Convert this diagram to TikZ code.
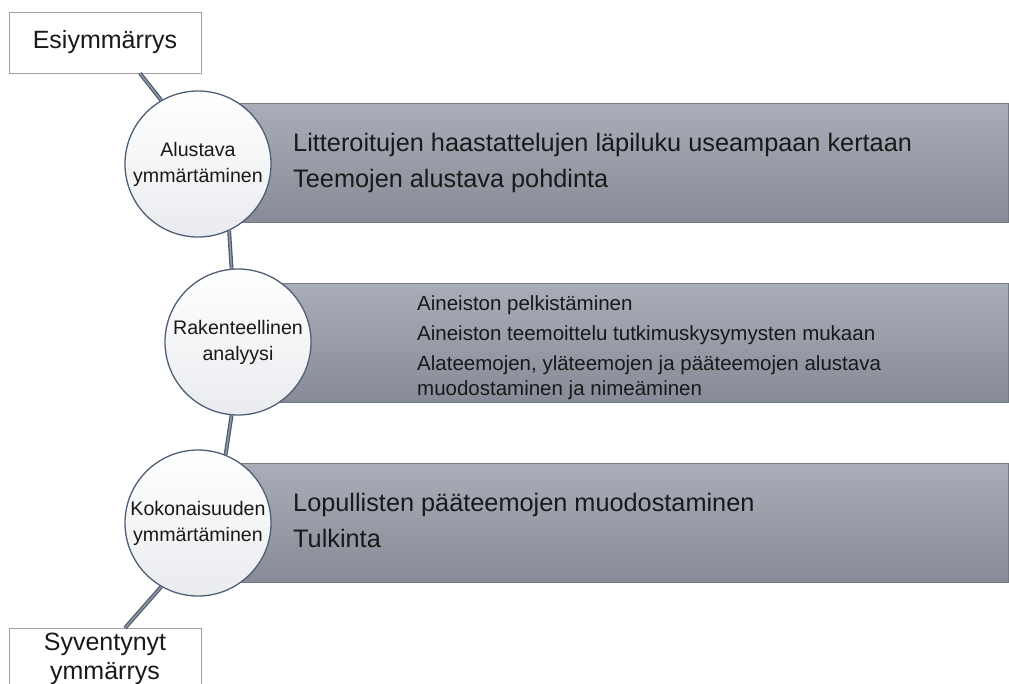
\documentclass[tikz,border=0pt]{standalone}
\usepackage{fontspec}
\setmainfont{Liberation Sans}
\definecolor{bandtop}{RGB}{168,173,183}
\definecolor{bandbot}{RGB}{134,139,151}
\definecolor{bandedge}{RGB}{118,122,130}
\definecolor{circedge}{RGB}{78,94,118}
\definecolor{circbot}{RGB}{234,235,239}
\definecolor{boxedge}{RGB}{160,160,160}
\definecolor{linkdark}{RGB}{78,88,104}
\definecolor{linklight}{RGB}{142,152,168}
\definecolor{txt}{RGB}{25,25,25}
\tikzset{
  band/.style={draw=bandedge, line width=1pt, top color=bandtop, bottom color=bandbot,
    rectangle, anchor=north west, minimum width=810pt, minimum height=119pt, inner sep=0pt},
  stage/.style={circle, draw=circedge, line width=1.3pt, top color=white, bottom color=circbot,
    minimum size=146pt, inner sep=0pt, align=center, text=txt,
    font=\fontsize{19.6}{26}\selectfont},
  endbox/.style={rectangle, draw=boxedge, line width=0.8pt, fill=white, minimum width=192pt,
    align=center, text=txt, font=\fontsize{25}{29}\selectfont},
  link/.style={draw=linkdark, line width=1.2pt, double=linklight, double distance=1.5pt},
  bigtxt/.style={anchor=base west, inner sep=0pt, text=txt, font=\fontsize{25.3}{29}\selectfont},
  smalltxt/.style={anchor=base west, inner sep=0pt, text=txt, font=\fontsize{20.5}{25}\selectfont},
}
\begin{document}
\begin{tikzpicture}[x=1pt,y=-1pt]
\clip (0,0) rectangle (1009,683);
\fill[white] (0,0) rectangle (1009,683);
% bands
\node[band] (b1) at (198,103) {};
\node[band, minimum width=770pt] (b2) at (238,283) {};
\node[band] (b3) at (198,463) {};
% band texts
\node[bigtxt] (t11) at (293,151) {Litteroitujen haastattelujen läpiluku useampaan kertaan};
\node[bigtxt] (t12) at (293,187) {Teemojen alustava pohdinta};
\node[smalltxt] (t21) at (417,310) {Aineiston pelkistäminen};
\node[smalltxt] (t22) at (417,340) {Aineiston teemoittelu tutkimuskysymysten mukaan};
\node[smalltxt] (t23) at (417,370) {Alateemojen, yläteemojen ja pääteemojen alustava};
\node[smalltxt] (t24) at (417,395) {muodostaminen ja nimeäminen};
\node[bigtxt] (t31) at (293,511) {Lopullisten pääteemojen muodostaminen};
\node[bigtxt] (t32) at (293,547) {Tulkinta};
% end boxes
\node[endbox, minimum height=61pt] (e1) at (105,42.5) {Esiymmärrys};
\node[endbox, anchor=north, inner ysep=5pt] (e2) at (105,628) {Syventynyt\\ymmärrys};
% circles
\node[stage] (c1) at (198,164) {Alustava\\ymmärtäminen};
\node[stage] (c2) at (238,342) {Rakenteellinen\\analyysi};
\node[stage] (c3) at (198,523) {Kokonaisuuden\\ymmärtäminen};
% connectors
\draw[link] ([xshift=35pt]e1.south) -- (c1.120);
\draw[link] (c1.-65) -- (c2.95);
\draw[link] (c2.-95) -- (c3.68);
\draw[link] (c3.240) -- ([xshift=20pt]e2.north);
\end{tikzpicture}
\end{document}
